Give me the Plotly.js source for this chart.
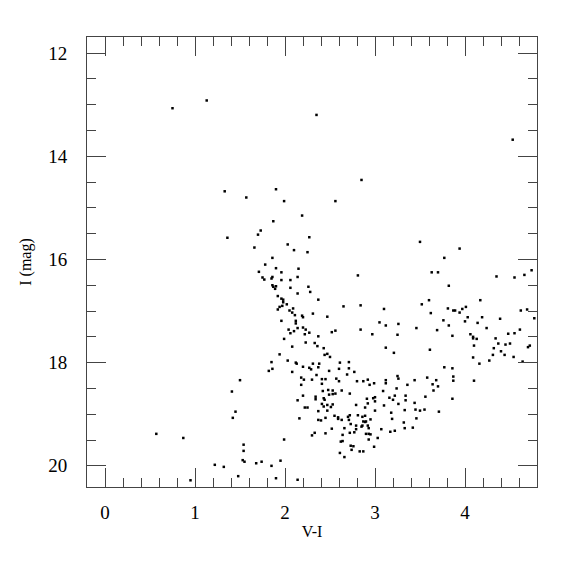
<!DOCTYPE html>
<html>
<head>
<meta charset="utf-8">
<script src="https://cdn.plot.ly/plotly-3.0.1.min.js"></script>
<style>html,body{margin:0;padding:0;background:#fff;}#chart{width:575px;height:575px;}</style>
</head>
<body>
<div id="chart"></div>
<script>
// Colour index V-I for each star
const vi = [
0.75,1.13,2.35,4.53,
1.33,1.90,1.57,1.99,2.19,1.87,1.73,1.70,1.36,2.27,2.03,1.66,2.10,2.25,1.86,1.78,1.90,2.15,1.71,1.96,1.75,1.86,2.14,1.77,1.85,1.96,2.06,1.86,1.90,1.87,2.26,2.06,1.89,2.28,2.14,1.92,2.37,1.96,1.98,1.98,2.02,1.94,1.97,1.92,2.09,
2.85,2.56,2.81,2.65,2.84,3.10,
3.50,3.94,3.77,3.63,3.70,4.74,4.66,4.55,4.35,3.82,3.60,4.17,3.52,3.81,3.87,3.89,3.94,3.97,4.01,4.62,4.69,3.62,4.03,4.19,4.77,3.76,4.00,4.39,4.14,3.26,3.82,3.46,3.69,4.24,4.61,3.25,3.86,4.06,4.48,4.55,4.09,4.09,4.13,4.34,4.37,4.50,4.45,4.10,4.32,4.72,4.70,3.61,4.40,3.21,4.31,4.44,4.09,4.54,4.27,4.64,4.16,3.77,3.86,3.25,3.26,3.58,3.87,3.44,3.68,3.87,4.10,3.36,3.64,3.70,3.24,
0.57,
2.05,2.08,2.11,2.19,2.20,2.31,1.96,2.12,2.12,2.14,2.04,2.10,2.20,2.23,2.06,2.22,2.27,2.37,1.99,2.23,2.33,2.36,2.08,1.94,2.03,1.85,2.12,2.13,2.31,2.38,2.37,1.86,2.20,2.27,2.29,1.82,2.08,2.35,1.50,2.18,2.21,2.30,2.18,1.41,2.20,2.34,2.14,2.34,2.22,2.25,1.45,2.37,1.42,2.16,2.37,2.33,2.30,0.87,1.99,1.54,1.54,1.53,1.55,1.95,1.68,1.74,1.22,1.32,1.85,1.48,1.90,2.14,0.95,
2.47,3.05,3.12,2.84,2.97,2.52,2.56,2.43,3.12,2.44,2.47,2.50,2.61,2.71,2.49,2.60,2.71,2.77,2.69,2.41,2.45,2.41,2.57,2.60,2.80,2.87,2.92,2.94,2.99,3.12,3.12,3.65,2.42,2.48,2.53,2.49,2.53,2.56,2.43,2.44,2.63,2.72,2.41,2.43,2.47,2.47,2.51,2.53,2.40,2.45,2.55,2.59,2.59,2.63,2.66,2.52,2.45,2.64,2.62,2.64,2.61,2.66,2.70,2.72,2.71,2.73,2.79,2.81,2.86,2.89,2.79,2.79,2.72,2.77,2.85,2.86,2.89,2.90,2.87,2.92,2.93,2.90,2.93,2.95,2.93,2.73,2.76,2.74,2.83,2.87,2.99,3.03,2.91,2.92,2.89,2.98,3.00,3.00,2.95,3.00,3.07,3.10,3.09,3.16,3.18,3.19,3.17,3.22,3.22,3.20,3.26,3.34,3.34,3.33,3.32,3.33,3.42,3.44,3.45,3.46,3.50,3.55,3.56,3.71,3.86
];
// I-band magnitude for each star
const imag = [
13.07,12.92,13.20,13.68,
14.68,14.64,14.80,14.87,15.15,15.26,15.44,15.52,15.58,15.57,15.71,15.77,15.82,15.86,15.97,16.10,16.17,16.18,16.24,16.25,16.35,16.34,16.34,16.39,16.37,16.40,16.40,16.50,16.52,16.53,16.53,16.55,16.57,16.63,16.66,16.71,16.78,16.76,16.78,16.83,16.87,16.92,16.90,16.97,16.95,
14.46,14.87,16.31,16.91,16.89,16.96,
15.66,15.79,15.97,16.25,16.25,16.21,16.30,16.35,16.33,16.51,16.79,16.79,16.87,16.95,16.99,16.99,17.03,16.96,16.92,16.99,16.97,17.04,17.12,17.12,17.14,17.18,17.20,17.15,17.23,17.25,17.28,17.33,17.37,17.33,17.36,17.46,17.48,17.45,17.44,17.43,17.50,17.53,17.54,17.53,17.63,17.63,17.65,17.67,17.72,17.67,17.70,17.75,17.78,17.81,17.85,17.85,17.90,17.89,17.96,17.98,18.02,18.09,18.11,18.26,18.31,18.29,18.27,18.34,18.34,18.35,18.35,18.43,18.42,18.46,18.50,
19.38,
16.99,17.03,17.08,17.09,17.12,17.05,17.19,17.19,17.24,17.33,17.36,17.39,17.32,17.36,17.43,17.45,17.42,17.49,17.54,17.61,17.62,17.68,17.69,17.84,17.96,17.99,18.00,18.02,18.02,18.02,18.09,18.12,18.08,18.10,18.13,18.16,18.18,18.24,18.34,18.29,18.33,18.33,18.43,18.56,18.64,18.66,18.73,18.71,18.87,18.87,18.95,18.94,19.07,19.08,19.11,19.36,19.41,19.46,19.49,19.59,19.71,19.89,19.92,19.90,19.95,19.92,19.98,20.02,20.00,20.20,20.24,20.27,20.28,
17.11,17.22,17.28,17.36,17.45,17.41,17.38,17.72,17.71,17.85,17.83,17.89,18.00,17.99,18.16,18.12,18.11,18.18,18.23,18.32,18.32,18.41,18.31,18.36,18.36,18.36,18.33,18.43,18.40,18.34,18.40,18.54,18.55,18.53,18.54,18.62,18.61,18.60,18.69,18.72,18.54,18.60,18.80,18.85,18.82,18.93,18.86,18.81,19.12,19.07,19.03,19.06,19.09,19.11,19.27,19.28,19.37,19.40,19.53,19.52,19.75,19.83,19.05,19.02,19.11,19.19,18.82,19.02,19.05,19.03,19.22,19.29,19.36,19.35,19.24,19.22,19.15,19.14,19.14,19.22,19.27,19.38,19.38,19.39,19.49,19.61,19.62,19.69,19.72,19.72,19.63,19.46,18.70,18.79,18.87,18.69,18.67,18.75,19.10,18.93,19.29,18.83,18.55,18.68,18.97,19.09,19.34,19.32,18.64,18.72,18.80,18.64,18.73,18.92,19.16,19.27,19.26,18.78,18.91,19.08,18.93,18.91,18.66,18.95,18.70
];
const xTickVals = [0, 1, 2, 3, 4];
const yTickVals = [12, 14, 16, 18, 20];

const serif = 'Liberation Serif, DejaVu Serif, serif';
const axisCommon = {
  showline: true, linecolor: '#444', linewidth: 1, mirror: 'allticks',
  ticks: 'inside', ticklen: 19, tickwidth: 1, tickcolor: '#444',
  showgrid: false, zeroline: false,
  tickfont: {family: serif, size: 19, color: '#000'}
};

Plotly.newPlot('chart', [{
  type: 'scatter', mode: 'markers',
  x: vi, y: imag,
  marker: {symbol: 'square', size: 2.5, color: '#000', line: {width: 0}},
  hoverinfo: 'x+y'
}], {
  width: 575, height: 575,
  margin: {l: 87, r: 38, t: 37, b: 88},
  paper_bgcolor: '#fff', plot_bgcolor: '#fff',
  showlegend: false,
  font: {family: serif, color: '#000'},
  xaxis: Object.assign({}, axisCommon, {
    range: [-0.2, 4.8], tickvals: xTickVals, ticktext: xTickVals.map(String),
    ticklabelstandoff: 8,
    minor: {dtick: 0.2, tick0: 0, ticks: 'inside', ticklen: 9, tickcolor: '#444', showgrid: false},
    title: {text: 'V-I', font: {family: serif, size: 16, color: '#000'}, standoff: 4}
  }),
  yaxis: Object.assign({}, axisCommon, {
    range: [20.41, 11.69], tickvals: yTickVals, ticktext: yTickVals.map(String),
    ticklabelstandoff: 15,
    minor: {dtick: 0.5, tick0: 0, ticks: 'inside', ticklen: 9, tickcolor: '#444', showgrid: false},
    title: {text: 'I (mag)', font: {family: serif, size: 16, color: '#000'}, standoff: 12}
  })
}, {displayModeBar: false, staticPlot: true});
</script>
</body>
</html>
